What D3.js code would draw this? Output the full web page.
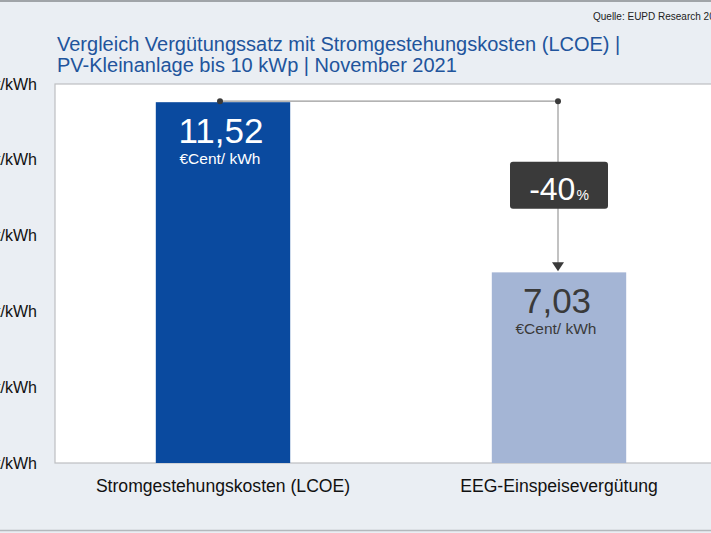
<!DOCTYPE html>
<html>
<head>
<meta charset="utf-8">
<script src="https://cdn.jsdelivr.net/npm/d3@7"></script>
<style>
  html, body { margin: 0; padding: 0; overflow: hidden; background: #eaeef3; }
  svg { display: block; font-family: "Liberation Sans", Arial, sans-serif; }
</style>
</head>
<body>
<div class="graph"></div>
<script>
// values
const categories = ["Stromgestehungskosten (LCOE)", "EEG-Einspeisevergütung"];
const values = [11.52, 7.03];
const valueLabels = ["11,52", "7,03"];
const unitLabel = "€Cent/ kWh";
const yTicks = [2, 4, 6, 8, 10, 12];
const yTickLabels = ["2 €Cent/kWh", "4 €Cent/kWh", "6 €Cent/kWh", "8 €Cent/kWh", "10 €Cent/kWh", "12 €Cent/kWh"];
const changeLabel = "-40";
const titleLines = [
  "Vergleich Vergütungssatz mit Stromgestehungskosten (LCOE) |",
  "PV-Kleinanlage bis 10 kWp | November 2021"
];
const sourceText = "Quelle: EUPD Research 2021";

let w = 711;
let h = 533;
let plot = { left: 55, top: 84, right: 727, bottom: 463 };

let svg = d3
  .select(".graph")
  .append("svg")
  .attr("width", w)
  .attr("height", h);

svg.append("rect").attr("width", w).attr("height", h).attr("fill", "#eaeef3");
svg.append("line").attr("x1", 0).attr("x2", w).attr("y1", 1).attr("y2", 1)
  .attr("stroke", "#a0a4a8").attr("stroke-width", 2);
svg.append("line").attr("x1", 0).attr("x2", w).attr("y1", 530.5).attr("y2", 530.5)
  .attr("stroke", "#b4b8bc").attr("stroke-width", 1.5);

svg.append("text")
  .attr("x", 593)
  .attr("y", 20)
  .attr("font-size", 10)
  .attr("fill", "#222")
  .text(sourceText);

svg.selectAll(".title")
  .data(titleLines)
  .enter()
  .append("text")
  .attr("class", "title")
  .attr("x", 57)
  .attr("y", (d, i) => 51 + i * 21)
  .attr("font-size", 20)
  .attr("fill", "#21549c")
  .text((d) => d);

// plot area
svg.append("rect")
  .attr("x", plot.left)
  .attr("y", plot.top)
  .attr("width", plot.right - plot.left + 20)
  .attr("height", plot.bottom - plot.top)
  .attr("fill", "#fff")
  .attr("stroke", "#bdbfc2")
  .attr("stroke-width", 1.2);

let xScale = d3.scaleBand()
  .domain(categories)
  .range([plot.left, plot.right])
  .padding(0);

let yScale = d3.scaleLinear()
  .domain([2, 12])
  .range([plot.bottom, plot.top]);

let yAxis = d3.axisLeft(yScale)
  .tickValues(yTicks)
  .tickSize(0)
  .tickPadding(18)
  .tickFormat((d, i) => yTickLabels[i]);

let yg = svg.append("g")
  .attr("transform", "translate(" + plot.left + ",0)")
  .call(yAxis);
yg.select(".domain").remove();
yg.selectAll("text")
  .attr("font-size", 16)
  .attr("font-family", "Liberation Sans, Arial, sans-serif")
  .attr("fill", "#111");

let xAxis = d3.axisBottom(xScale).tickSize(0).tickPadding(17);
let xg = svg.append("g")
  .attr("transform", "translate(0," + plot.bottom + ")")
  .call(xAxis);
xg.select(".domain").remove();
xg.selectAll("text")
  .attr("font-size", 17.6)
  .attr("font-family", "Liberation Sans, Arial, sans-serif")
  .attr("fill", "#111");

let barColors = ["#0a4a9f", "#a4b5d5"];
let textColors = ["#ffffff", "#3a3a3a"];
let barW = xScale.bandwidth() * 0.4;
let cx = (d) => xScale(d) + xScale.bandwidth() / 2;

svg.selectAll(".bar")
  .data(categories)
  .enter()
  .append("rect")
  .attr("class", "bar")
  .attr("x", (d) => cx(d) - barW / 2)
  .attr("y", (d, i) => yScale(values[i]))
  .attr("width", barW)
  .attr("height", (d, i) => yScale(2) - yScale(values[i]))
  .attr("fill", (d, i) => barColors[i]);

svg.selectAll(".val")
  .data(categories)
  .enter()
  .append("text")
  .attr("class", "val")
  .attr("x", (d) => cx(d) - 2)
  .attr("y", (d, i) => yScale(values[i]) + 41)
  .attr("text-anchor", "middle")
  .attr("font-size", 35)
  .attr("fill", (d, i) => textColors[i])
  .text((d, i) => valueLabels[i]);

svg.selectAll(".unit")
  .data(categories)
  .enter()
  .append("text")
  .attr("class", "unit")
  .attr("x", (d) => cx(d) - 3)
  .attr("y", (d, i) => yScale(values[i]) + 62)
  .attr("text-anchor", "middle")
  .attr("font-size", 15.5)
  .attr("fill", (d, i) => textColors[i])
  .text(unitLabel);

// connector from LCOE down to EEG bar
let x1 = cx(categories[0]) - 3;
let x2 = cx(categories[1]) - 1;
let yTop = yScale(values[0]) - 1;
let yBot = yScale(values[1]);

svg.append("path")
  .attr("d", "M" + x1 + "," + yTop + "H" + x2 + "V" + (yBot - 9))
  .attr("fill", "none")
  .attr("stroke", "#9a9a9a")
  .attr("stroke-width", 1.2);

svg.append("path")
  .attr("d", "M" + (x2 - 6) + "," + (yBot - 10) + "L" + (x2 + 6) + "," + (yBot - 10) + "L" + x2 + "," + (yBot - 1) + "Z")
  .attr("fill", "#3a3a3a");

svg.selectAll(".dot")
  .data([x1, x2])
  .enter()
  .append("circle")
  .attr("cx", (d) => d)
  .attr("cy", yTop)
  .attr("r", 3)
  .attr("fill", "#3a3a3a");

let boxY = (yTop + yBot) / 2 - 2;
svg.append("rect")
  .attr("x", x2 - 48)
  .attr("y", boxY - 23)
  .attr("width", 98)
  .attr("height", 47)
  .attr("rx", 3)
  .attr("fill", "#3a3a3a");

let lbl = svg.append("text")
  .attr("x", x2 + 1)
  .attr("y", boxY + 15)
  .attr("text-anchor", "middle")
  .attr("fill", "#fff");
lbl.append("tspan").attr("font-size", 32).text(changeLabel);
lbl.append("tspan").attr("font-size", 14).attr("dx", 1).text("%");
</script>
</body>
</html>
